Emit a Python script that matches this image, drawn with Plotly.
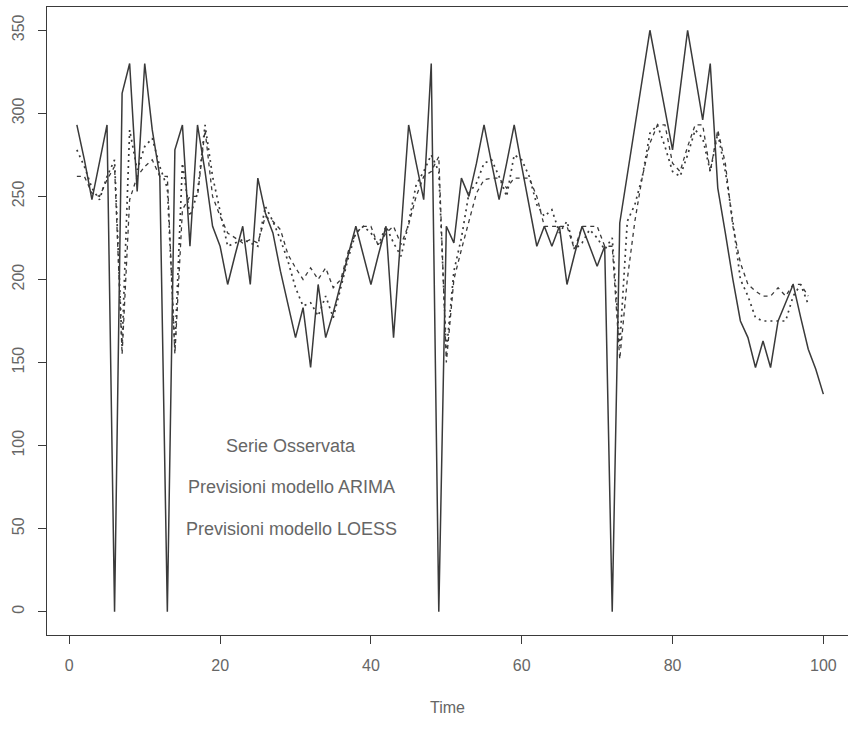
import plotly.graph_objects as go

# Time index and the three series
time = list(range(1, 101))

serie_osservata = [
    293, 272, 248, 270, 293, 0, 312, 330, 253, 330,
    290, 262, 0, 278, 293, 220, 293, 265, 232, 220,
    197, 215, 232, 197, 261, 240, 228, 205, 185, 165,
    183, 147, 197, 165, 180, 198, 215, 232, 215, 197,
    215, 232, 165, 230, 293, 270, 248, 330, 0, 232,
    222, 261, 250, 270, 293, 270, 248, 270, 293, 268,
    244, 220, 232, 220, 232, 197, 215, 232, 220, 208,
    220, 0, 234, 263, 292, 320, 350, 326, 302, 278,
    314, 350, 323, 296, 330, 255, 228, 200, 175, 165,
    147, 163, 147, 175, 186, 197, 177, 158, 146, 131,
]

time_prev = list(range(1, 99))

previsioni_arima = [
    262, 262, 252, 250, 260, 268, 155, 248, 262, 268,
    272, 262, 262, 155, 242, 250, 250, 290, 250, 238,
    228, 225, 222, 224, 222, 238, 235, 230, 215, 207,
    200, 207, 200, 207, 195, 200, 217, 228, 232, 232,
    220, 228, 232, 221, 233, 250, 262, 265, 274, 150,
    200, 218, 235, 252, 260, 261, 261, 255, 261, 261,
    261, 250, 232, 232, 232, 232, 218, 232, 232, 232,
    220, 220, 152, 200, 235, 262, 282, 293, 293, 270,
    265, 280, 293, 293, 265, 290, 270, 232, 210, 197,
    193, 190, 190, 195, 190, 197, 197, 190,
]

previsioni_loess = [
    278, 268, 255, 248, 262, 272, 160, 290, 266, 280,
    285, 268, 255, 158, 270, 238, 252, 293, 262, 240,
    220, 222, 224, 222, 220, 244, 235, 224, 211, 195,
    184, 186, 178, 190, 177, 195, 213, 228, 232, 228,
    221, 232, 222, 214, 234, 257, 265, 275, 265, 156,
    205, 225, 252, 258, 270, 272, 262, 250, 275, 272,
    262, 245, 238, 242, 228, 235, 218, 222, 230, 225,
    218, 225, 160, 235, 245, 262, 288, 293, 280, 265,
    262, 275, 290, 285, 265, 288, 265, 235, 200, 190,
    177, 175, 175, 175, 175, 190, 197, 185,
]

x_ticks = [0, 20, 40, 60, 80, 100]
y_ticks = [0, 50, 100, 150, 200, 250, 300, 350]

legend_labels = [
    "Serie Osservata",
    "Previsioni modello ARIMA",
    "Previsioni modello LOESS",
]
legend_y = [100, 75, 50]
legend_x = 29.4

LINE = "#3a3a3a"
TEXT = "#666666"
FONT = "Liberation Sans, Arial, sans-serif"

fig = go.Figure()
fig.add_trace(go.Scatter(
    x=time, y=serie_osservata, mode="lines",
    line=dict(color=LINE, width=1.5), name=legend_labels[0],
))
fig.add_trace(go.Scatter(
    x=time_prev, y=previsioni_arima, mode="lines",
    line=dict(color=LINE, width=1.3, dash="4px,4px"), name=legend_labels[1],
))
fig.add_trace(go.Scatter(
    x=time_prev, y=previsioni_loess, mode="lines",
    line=dict(color=LINE, width=1.7, dash="2px,4px"), name=legend_labels[2],
))

for label, yv in zip(legend_labels, legend_y):
    fig.add_annotation(
        x=legend_x, y=yv, xref="x", yref="y", text=label, showarrow=False,
        font=dict(family=FONT, size=18, color=TEXT),
        xanchor="center", yanchor="middle",
    )

fig.add_annotation(
    x=0.5, y=-0.115, xref="paper", yref="paper", text="Time", showarrow=False,
    font=dict(family=FONT, size=16, color=TEXT),
    xanchor="center", yanchor="middle",
)

fig.update_layout(
    width=848, height=730,
    margin=dict(l=47, r=0, t=7, b=95),
    paper_bgcolor="white", plot_bgcolor="white",
    showlegend=False,
    font=dict(family=FONT, color=TEXT),
)
fig.update_xaxes(
    range=[-2.96, 103.27], tickmode="array", tickvals=x_ticks,
    ticks="outside", ticklen=8, tickcolor=LINE, tickwidth=1,
    showline=True, mirror=True, linecolor=LINE, linewidth=1.2,
    showgrid=False, zeroline=False,
    tickfont=dict(family=FONT, size=16, color=TEXT),
    ticklabelstandoff=8,
)
fig.update_yaxes(
    range=[-14, 364], tickmode="array", tickvals=y_ticks,
    ticks="outside", ticklen=8, tickcolor=LINE, tickwidth=1,
    showline=True, mirror=False, linecolor=LINE, linewidth=1.2,
    showgrid=False, zeroline=False, tickangle=-90,
    tickfont=dict(family=FONT, size=16, color=TEXT),
    ticklabelstandoff=8,
)

fig.write_html("out.html")
